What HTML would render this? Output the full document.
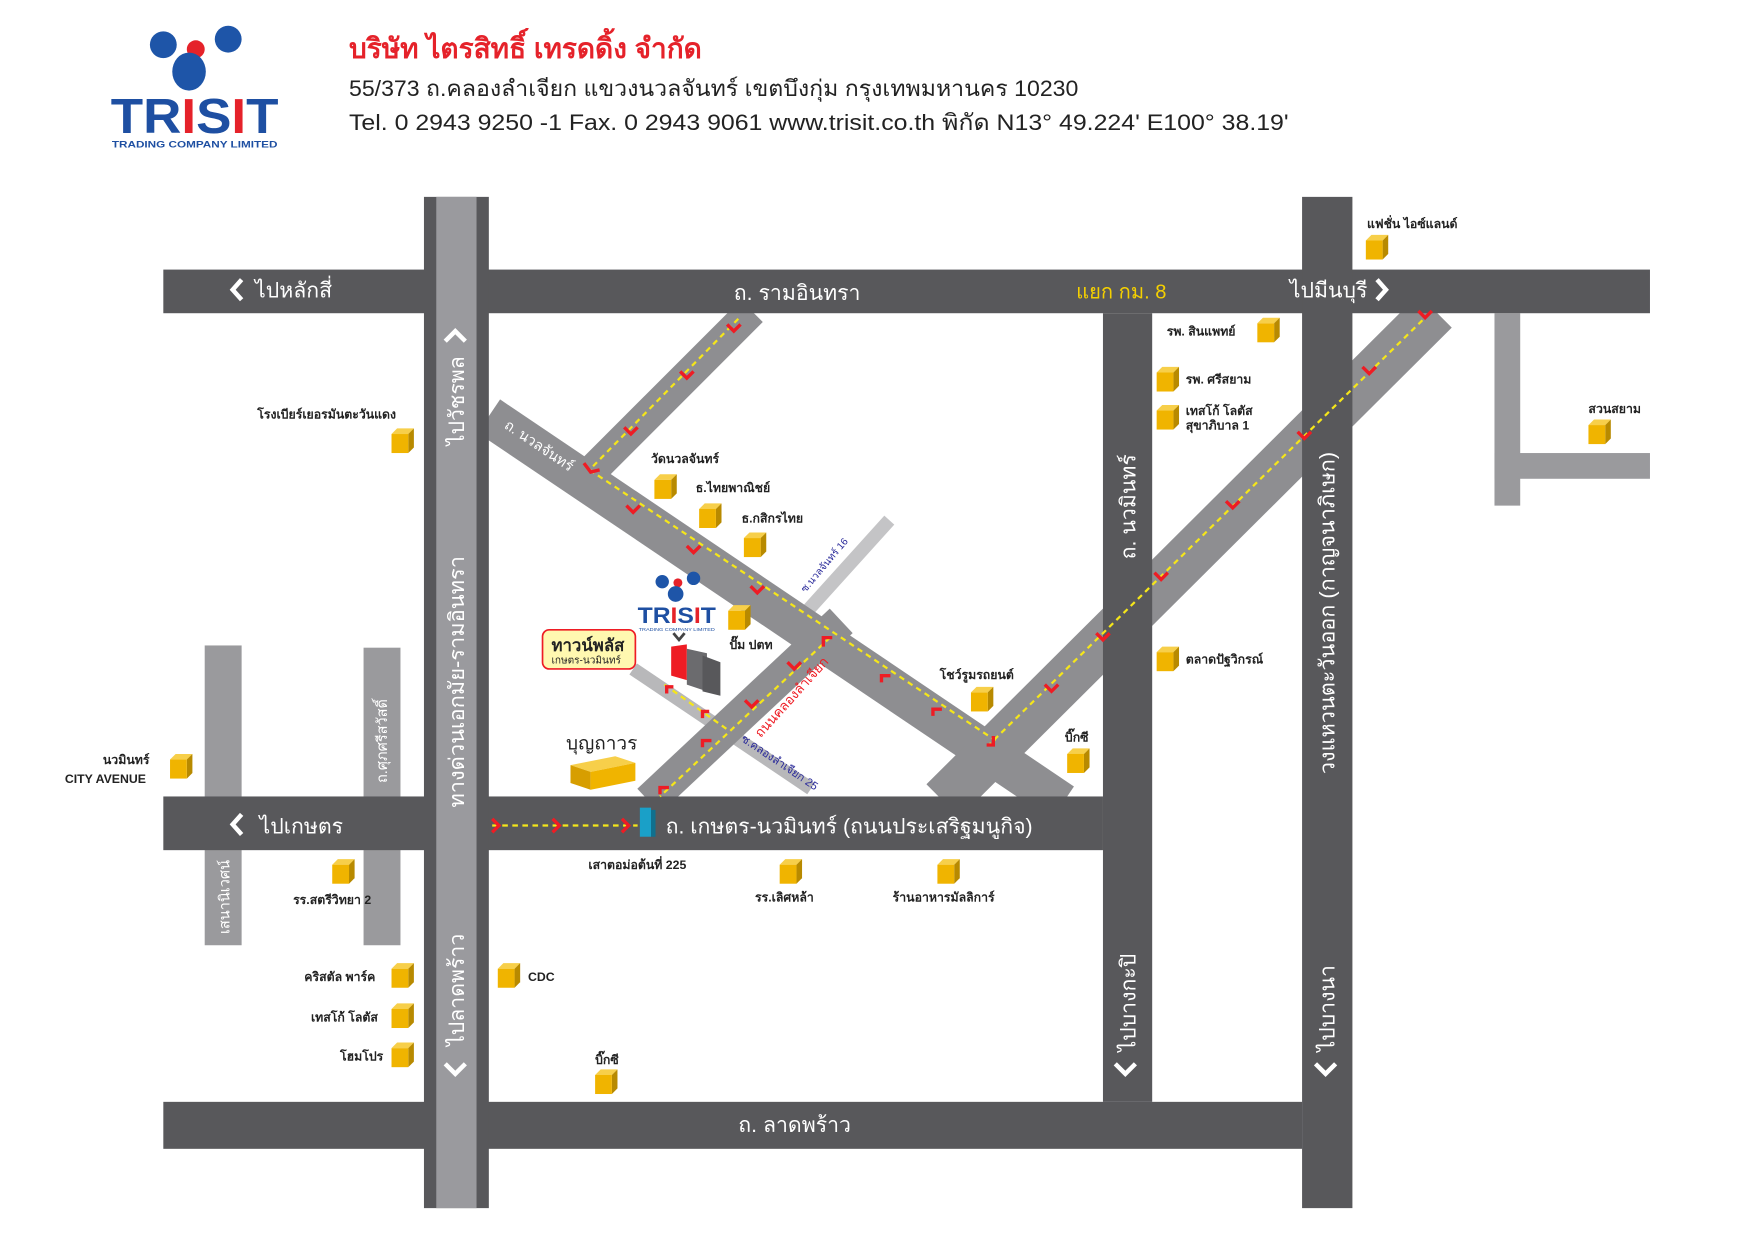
<!DOCTYPE html>
<html><head><meta charset="utf-8"><style>
html,body{margin:0;padding:0;background:#fff;}
svg{display:block;}
text{font-family:"Liberation Sans","DejaVu Sans",sans-serif;}
.w{fill:#fff;font-size:19px;}
.s{fill:#222;font-size:11px;font-weight:bold;}
</style></head><body>
<svg width="1754" height="1240" viewBox="0 0 1568 1108.5" preserveAspectRatio="none" xmlns="http://www.w3.org/2000/svg">
<defs>
<g id="cube"><polygon points="0,5 5,0 20,0 15,5" fill="#f7cf4a"/><polygon points="15,5 20,0 20,17 15,22" fill="#b88a00"/><rect x="0" y="5" width="15" height="17" fill="#f0b400"/></g>
</defs>
<!-- header -->
<circle cx="146" cy="40" r="12" fill="#1e55a8"/><circle cx="204" cy="35" r="12" fill="#1e55a8"/><circle cx="175" cy="44" r="8" fill="#e5222a"/><ellipse cx="169" cy="64" rx="15" ry="17" fill="#1e55a8"/>
<text x="99" y="119" font-size="44" font-weight="bold" fill="#1e4fa2" textLength="150" lengthAdjust="spacingAndGlyphs">TR<tspan fill="#e5222a">I</tspan>S<tspan fill="#e5222a">I</tspan>T</text>
<text x="100" y="132" font-size="8" font-weight="bold" fill="#1e4fa2" textLength="148" lengthAdjust="spacingAndGlyphs">TRADING COMPANY LIMITED</text>
<text x="312" y="52" font-size="25" font-weight="bold" fill="#e5222a">บริษัท ไตรสิทธิ์ เทรดดิ้ง จำกัด</text>
<text x="312" y="86" font-size="20" fill="#222" textLength="652" lengthAdjust="spacingAndGlyphs">55/373 ถ.คลองลำเจียก แขวงนวลจันทร์ เขตบึงกุ่ม กรุงเทพมหานคร 10230</text>
<text x="312" y="116" font-size="20" fill="#222" textLength="840" lengthAdjust="spacingAndGlyphs">Tel. 0 2943 9250 -1   Fax. 0 2943 9061    www.trisit.co.th    พิกัด N13° 49.224' E100° 38.19'</text>

<!-- light gray minor roads -->
<rect x="183" y="577" width="33" height="268" fill="#9a9a9d"/>
<rect x="325" y="579" width="33" height="266" fill="#9a9a9d"/>
<rect x="1336" y="280" width="23" height="172" fill="#9a9a9d"/>
<rect x="1336" y="405" width="139" height="23" fill="#9a9a9d"/>
<!-- thin sois -->
<line x1="795" y1="465" x2="720" y2="548" stroke="#c4c4c6" stroke-width="12"/>
<line x1="566" y1="598" x2="725" y2="705" stroke="#b8b8ba" stroke-width="12"/>
<!-- diagonals -->
<line x1="437" y1="372" x2="950" y2="718" stroke="#8e8e91" stroke-width="36"/>
<line x1="672" y1="278" x2="522" y2="428" stroke="#8e8e91" stroke-width="28"/>
<line x1="1283" y1="278" x2="843" y2="716" stroke="#8e8e91" stroke-width="42"/>
<line x1="752" y1="555" x2="580" y2="716" stroke="#8e8e91" stroke-width="30"/>
<!-- main dark roads -->
<rect x="146" y="241" width="1329" height="39" fill="#58585b"/>
<rect x="986" y="280" width="44" height="705" fill="#58585b"/>
<rect x="146" y="712" width="840" height="48" fill="#58585b"/>
<rect x="146" y="985" width="1018" height="42" fill="#58585b"/>
<rect x="1164" y="176" width="45" height="904" fill="#58585b"/>
<rect x="379" y="176" width="58" height="904" fill="#58585b"/>
<rect x="390" y="176" width="36" height="904" fill="#9a9a9e"/>
<!-- yellow dashed routes -->
<g stroke="#f5e61a" stroke-width="2" stroke-dasharray="5,4" fill="none">
<line x1="660" y1="285" x2="527" y2="420"/>
<line x1="527" y1="420" x2="890" y2="662"/>
<line x1="1278" y1="280" x2="885" y2="665"/>
<line x1="742" y1="570" x2="590" y2="712"/>
<line x1="594" y1="612" x2="650" y2="652"/>
<line x1="440" y1="738" x2="570" y2="738"/>
</g>
<!-- red markers -->
<g stroke="#ee1c24" stroke-width="3" fill="none">
<polyline points="650,290 656,296 662,290"/><polyline points="608,332 614,338 620,332"/><polyline points="558,382 564,388 570,382"/>
<polyline points="522,414 528,422 536,420"/><polyline points="560,452 566,458 572,452"/><polyline points="614,488 620,494 626,488"/><polyline points="671,524 677,530 683,524"/>
<polyline points="736,578 736,570 744,570"/><polyline points="788,610 788,604 796,604"/><polyline points="834,640 834,634 842,634"/><polyline points="882,666 888,666 888,658"/>
<polyline points="1268,278 1274,284 1280,278"/><polyline points="1218,328 1224,334 1230,328"/><polyline points="1160,386 1166,392 1172,386"/><polyline points="1096,448 1102,454 1108,448"/><polyline points="1032,512 1038,518 1044,512"/><polyline points="980,566 986,572 992,566"/><polyline points="934,612 940,618 946,612"/>
<polyline points="704,592 710,598 716,592"/><polyline points="666,626 672,632 678,626"/><polyline points="628,668 628,662 636,662"/><polyline points="590,710 590,704 598,704"/>
<polyline points="596,620 596,614 602,614"/><polyline points="628,642 628,636 634,636"/>
<polyline points="440,732 446,738 440,744"/><polyline points="494,732 500,738 494,744"/><polyline points="556,732 562,738 556,744"/>
</g>
<!-- chevrons -->
<g stroke="#fff" stroke-width="4" fill="none">
<polyline points="216,250 208,259 216,268"/><polyline points="1231,250 1239,259 1231,268"/>
<polyline points="216,728 208,737 216,746"/>
<polyline points="398,305 407,296 416,305"/><polyline points="398,951 407,960 416,951"/>
<polyline points="997,951 1006,960 1015,951"/><polyline points="1176,951 1185,960 1194,951"/>
</g>
<!-- road labels -->
<text class="w" x="228" y="266">ไปหลักสี่</text>
<text class="w" x="656" y="268">ถ. รามอินทรา</text>
<text x="962" y="267" font-size="18" fill="#f5d000">แยก กม. 8</text>
<text class="w" x="1153" y="266">ไปมีนบุรี</text>
<text class="w" x="232" y="745">ไปเกษตร</text>
<text class="w" x="595" y="745">ถ. เกษตร-นวมินทร์ (ถนนประเสริฐมนูกิจ)</text>
<text class="w" x="660" y="1012">ถ. ลาดพร้าว</text>
<text class="w" transform="translate(415,398) rotate(-90)">ไปวัชรพล</text>
<text class="w" transform="translate(415,722) rotate(-90)" textLength="225" lengthAdjust="spacingAndGlyphs">ทางด่วนเอกมัย-รามอินทรา</text>
<text class="w" transform="translate(415,935) rotate(-90)">ไปลาดพร้าว</text>
<text class="w" transform="translate(1015,500) rotate(-90)">ถ. นวมินทร์</text>
<text class="w" transform="translate(1015,940) rotate(-90)">ไปบางกะปิ</text>
<text class="w" transform="translate(1193,692) rotate(-90)" textLength="288" lengthAdjust="spacingAndGlyphs">วงแหวนตะวันออก (กาญจนาภิเษก)</text>
<text class="w" transform="translate(1193,940) rotate(-90)">ไปบางนา</text>
<text fill="#fff" font-size="13" transform="translate(346,700) rotate(-90)">ถ.ศุภศรีสวัสดิ์</text>
<text fill="#fff" font-size="13" transform="translate(205,835) rotate(-90)">เสนานิเวศน์</text>
<text fill="#fff" font-size="13" transform="translate(450,382) rotate(34)">ถ. นวลจันทร์</text>
<text fill="#fff" font-size="13" transform="translate(525,392) rotate(-45)">ซ. รามอินทรา 40</text>
<text fill="#2a2a9a" font-size="9" transform="translate(720,530) rotate(-50)">ซ.นวลจันทร์ 16</text>
<text fill="#2a2a9a" font-size="10" transform="translate(662,662) rotate(34)">ซ.คลองลำเจียก 25</text>
<text fill="#ee1c24" font-size="12" transform="translate(680,660) rotate(-48)">ถนนคลองลำเจียก</text>
<!-- landmarks -->
<g class="s">
<use href="#cube" x="1221" y="210"/><text class="s" x="1222" y="204">แฟชั่น ไอซ์แลนด์</text>
<use href="#cube" x="1124" y="284"/><text class="s" x="1043" y="300">รพ. สินแพทย์</text>
<use href="#cube" x="1034" y="328"/><text class="s" x="1060" y="343">รพ. ศรีสยาม</text>
<use href="#cube" x="1034" y="362"/><text class="s" x="1060" y="371">เทสโก้ โลตัส</text><text class="s" x="1060" y="384">สุขาภิบาล 1</text>
<use href="#cube" x="1420" y="375"/><text class="s" x="1420" y="369">สวนสยาม</text>
<use href="#cube" x="1034" y="578"/><text class="s" x="1060" y="593">ตลาดปัฐวิกรณ์</text>
<use href="#cube" x="954" y="669"/><text class="s" x="952" y="663">บิ๊กซี</text>
<use href="#cube" x="868" y="614"/><text class="s" x="840" y="607">โชว์รูมรถยนต์</text>
<use href="#cube" x="350" y="383"/><text class="s" x="230" y="374">โรงเบียร์เยอรมันตะวันแดง</text>
<use href="#cube" x="585" y="424"/><text class="s" x="582" y="414">วัดนวลจันทร์</text>
<use href="#cube" x="625" y="450"/><text class="s" x="622" y="440">ธ.ไทยพาณิชย์</text>
<use href="#cube" x="665" y="476"/><text class="s" x="663" y="467">ธ.กสิกรไทย</text>
<use href="#cube" x="651" y="541"/><text class="s" x="652" y="580">ปั๊ม ปตท</text>
<use href="#cube" x="152" y="674"/><text class="s" x="92" y="683">นวมินทร์</text><text class="s" x="58" y="700">CITY AVENUE</text>
<use href="#cube" x="297" y="768"/><text class="s" x="262" y="808">รร.สตรีวิทยา 2</text>
<use href="#cube" x="697" y="768"/><text class="s" x="675" y="806">รร.เลิศหล้า</text>
<use href="#cube" x="838" y="768"/><text class="s" x="798" y="806">ร้านอาหารมัลลิการ์</text>
<text class="s" x="526" y="777">เสาตอม่อต้นที่ 225</text>
<use href="#cube" x="350" y="861"/><text class="s" x="272" y="877">คริสตัล พาร์ค</text>
<use href="#cube" x="350" y="897"/><text class="s" x="278" y="913">เทสโก้ โลตัส</text>
<use href="#cube" x="350" y="932"/><text class="s" x="304" y="948">โฮมโปร</text>
<use href="#cube" x="445" y="861"/><text class="s" x="472" y="877">CDC</text>
<use href="#cube" x="532" y="956"/><text class="s" x="532" y="951">บิ๊กซี</text>
</g>
<!-- bunthavorn -->
<polygon points="510,684 550,676 568,682 528,690" fill="#f7cf4a"/><polygon points="510,684 528,690 528,706 510,700" fill="#d79e00"/><polygon points="528,690 568,682 568,698 528,706" fill="#f0b400"/>
<text x="506" y="670" font-size="17" fill="#222">บุญถาวร</text>
<!-- building -->
<polygon points="600,578 614,576 614,608 600,604" fill="#ee1c24"/>
<polygon points="614,580 632,584 632,618 614,612" fill="#6b6b6e"/><polygon points="628,586 644,592 644,622 628,618" fill="#58585b"/>
<polyline points="602,566 607,572 612,566" stroke="#444" stroke-width="2.5" fill="none"/>
<!-- small logo -->
<circle cx="592" cy="520" r="6" fill="#1e55a8"/><circle cx="620" cy="517" r="6" fill="#1e55a8"/><circle cx="606" cy="521" r="4" fill="#e5222a"/><circle cx="604" cy="531" r="7" fill="#1e55a8"/>
<text x="570" y="557" font-size="20" font-weight="bold" fill="#1e4fa2" textLength="70" lengthAdjust="spacingAndGlyphs">TR<tspan fill="#e5222a">I</tspan>S<tspan fill="#e5222a">I</tspan>T</text>
<text x="571" y="564" font-size="4" fill="#1e4fa2" textLength="68" lengthAdjust="spacingAndGlyphs">TRADING COMPANY LIMITED</text>
<rect x="485" y="563" width="83" height="35" rx="6" fill="#fff8b0" stroke="#ee1c24" stroke-width="1.5"/>
<text x="493" y="582" font-size="15" font-weight="bold" fill="#222">ทาวน์พลัส</text>
<text x="493" y="593" font-size="9" fill="#222">เกษตร-นวมินทร์</text>
<!-- pillar -->
<rect x="572" y="722" width="10" height="26" fill="#1aa0c8"/><rect x="582" y="724" width="4" height="24" fill="#10708e"/>
</svg>
</body></html>
